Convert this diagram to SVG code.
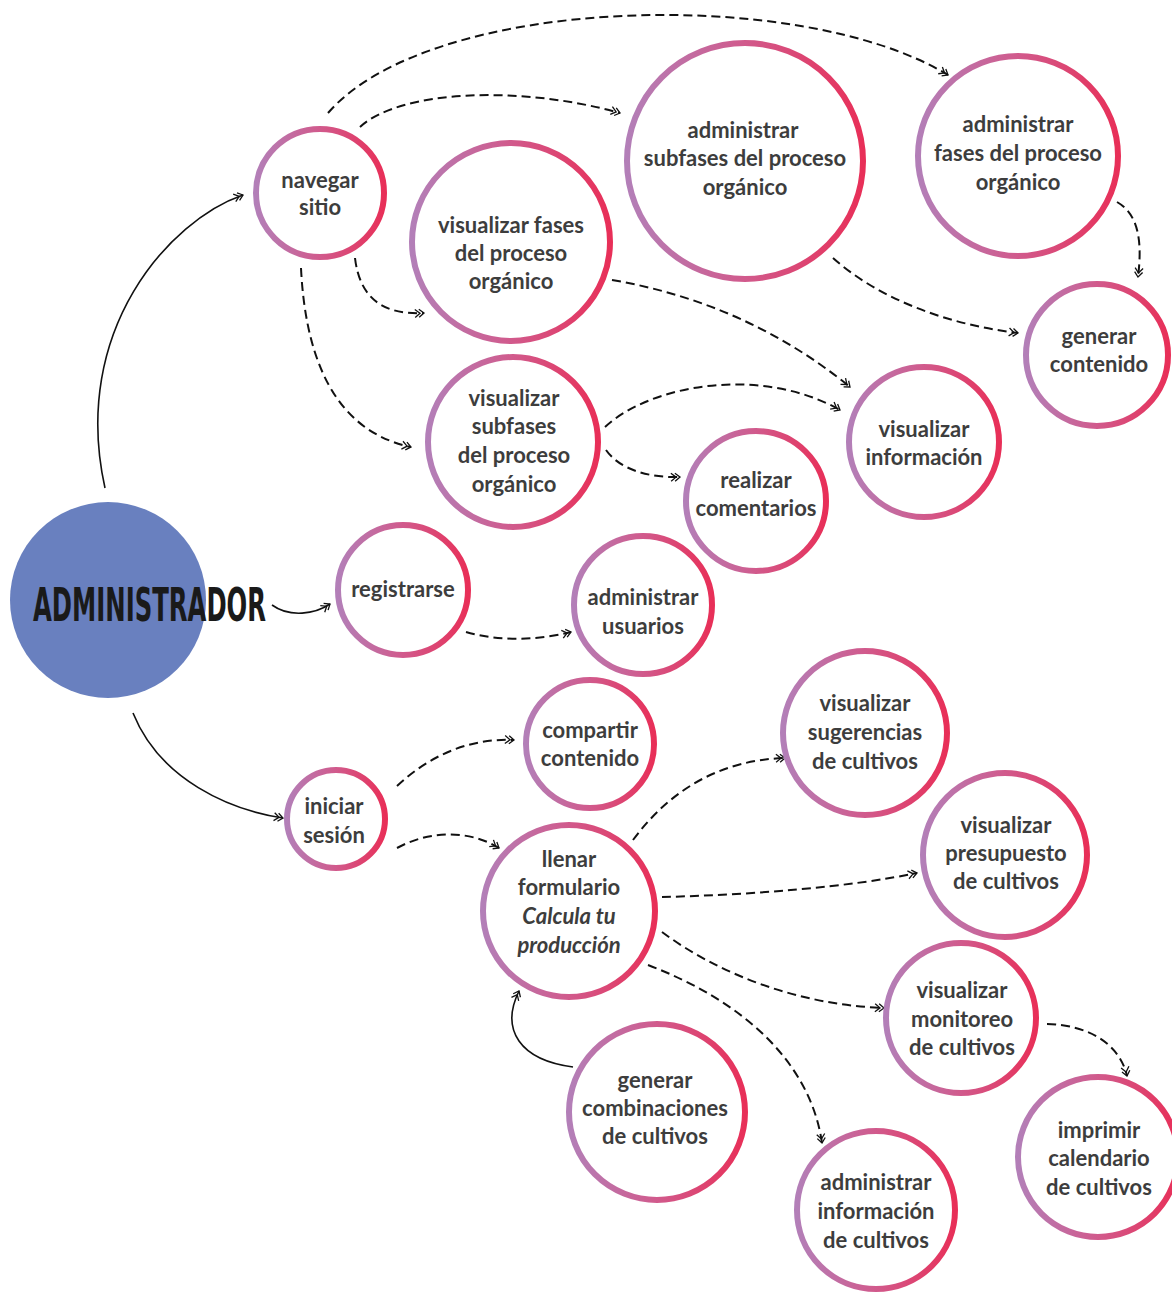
<svg xmlns="http://www.w3.org/2000/svg" width="1172" height="1293" viewBox="0 0 1172 1293">
<defs>
<linearGradient id="ring" x1="0" y1="0" x2="1" y2="0">
<stop offset="0" stop-color="#b37fb8"/>
<stop offset="0.5" stop-color="#d15a8c"/>
<stop offset="1" stop-color="#e82f58"/>
</linearGradient>
<marker id="arr" markerUnits="userSpaceOnUse" markerWidth="16" markerHeight="16" viewBox="-8 -8 16 16" refX="4" refY="0" orient="auto">
<path d="M-1,-4 L4,0 L-1,4 M-5,-4 L0,0 L-5,4" fill="none" stroke="#111" stroke-width="1.3"/>
</marker>
<style>
.node circle{fill:#fff;stroke:url(#ring);stroke-width:6}
.node text{font-family:Lato,"Open Sans","Liberation Sans",sans-serif;font-weight:700;font-size:22px;fill:#3d3d3d;text-anchor:middle}
.it{font-style:italic}
.dash{fill:none;stroke:#111;stroke-width:2;stroke-dasharray:9 5;marker-end:url(#arr)}
.solid{fill:none;stroke:#111;stroke-width:1.6;marker-end:url(#arr)}
</style>
</defs>
<g id="connectors">
<path class="solid" d="M105,488 C70,330 170,220 243,195"/>
<path class="solid" d="M272,605 C290,618 315,614 330,604"/>
<path class="solid" d="M133,713 C160,780 230,810 283,818"/>
<path class="solid" d="M573,1067 C520,1060 500,1030 519,991"/>
<path class="dash" d="M328,113 C430,-5 800,-15 948,75"/>
<path class="dash" d="M360,127 C400,90 520,85 620,113"/>
<path class="dash" d="M355,258 C360,300 385,315 424,313"/>
<path class="dash" d="M301,268 C305,350 330,430 411,447"/>
<path class="dash" d="M612,280 C700,295 780,330 850,387"/>
<path class="dash" d="M833,258 C880,300 950,325 1018,333"/>
<path class="dash" d="M1117,202 C1140,215 1142,245 1138,277"/>
<path class="dash" d="M605,427 C650,385 760,365 840,410"/>
<path class="dash" d="M606,450 C620,470 650,478 680,477"/>
<path class="dash" d="M466,632 C500,642 540,640 571,632"/>
<path class="dash" d="M397,786 C430,755 470,738 514,740"/>
<path class="dash" d="M397,848 C430,830 470,830 499,848"/>
<path class="dash" d="M633,840 C670,790 720,760 785,758"/>
<path class="dash" d="M662,897 C750,895 850,887 917,873"/>
<path class="dash" d="M662,932 C720,975 800,1005 884,1008"/>
<path class="dash" d="M648,965 C740,1000 810,1060 822,1143"/>
<path class="dash" d="M1047,1024 C1090,1025 1120,1045 1127,1076"/>
</g>
<g id="administrador">
<circle cx="108" cy="600" r="98" fill="#6980bf"/>
<text transform="translate(33,621) scale(1,1.55)" x="0" y="0" textLength="233" lengthAdjust="spacingAndGlyphs" font-family="'Liberation Sans Narrow','DejaVu Sans Condensed','Liberation Sans',sans-serif" font-weight="700" font-size="30.3" fill="#1a1a1a">ADMINISTRADOR</text>
</g>
<g id="navegar-sitio" class="node"><circle cx="320" cy="193" r="64"/><text x="320" y="188">navegar</text><text x="320" y="215">sitio</text></g>
<g id="visualizar-fases" class="node"><circle cx="511" cy="242" r="99"/><text x="511" y="233">visualizar fases</text><text x="511" y="261">del proceso</text><text x="511" y="289">orgánico</text></g>
<g id="administrar-subfases" class="node"><circle cx="745" cy="161" r="118"/><text x="743" y="138">administrar</text><text x="745" y="166">subfases del proceso</text><text x="745" y="195">orgánico</text></g>
<g id="administrar-fases" class="node"><circle cx="1018" cy="156" r="100"/><text x="1018" y="132">administrar</text><text x="1018" y="161">fases del proceso</text><text x="1018" y="190">orgánico</text></g>
<g id="generar-contenido" class="node"><circle cx="1097" cy="355" r="71"/><text x="1099" y="344">generar</text><text x="1099" y="372">contenido</text></g>
<g id="visualizar-subfases" class="node"><circle cx="513" cy="442" r="85"/><text x="514" y="406">visualizar</text><text x="514" y="434">subfases</text><text x="514" y="463">del proceso</text><text x="514" y="492">orgánico</text></g>
<g id="visualizar-informacion" class="node"><circle cx="924" cy="442" r="75"/><text x="924" y="437">visualizar</text><text x="924" y="465">información</text></g>
<g id="realizar-comentarios" class="node"><circle cx="756" cy="501" r="70"/><text x="756" y="488">realizar</text><text x="756" y="516">comentarios</text></g>
<g id="registrarse" class="node"><circle cx="403" cy="590" r="65"/><text x="403" y="597">registrarse</text></g>
<g id="administrar-usuarios" class="node"><circle cx="643" cy="605" r="69"/><text x="643" y="605">administrar</text><text x="643" y="634">usuarios</text></g>
<g id="compartir-contenido" class="node"><circle cx="590" cy="744" r="64"/><text x="590" y="738">compartir</text><text x="590" y="766">contenido</text></g>
<g id="visualizar-sugerencias" class="node"><circle cx="865" cy="733" r="82"/><text x="865" y="711">visualizar</text><text x="865" y="740">sugerencias</text><text x="865" y="769">de cultivos</text></g>
<g id="iniciar-sesion" class="node"><circle cx="336" cy="819" r="49"/><text x="334" y="814">iniciar</text><text x="334" y="843">sesión</text></g>
<g id="llenar-formulario" class="node"><circle cx="569" cy="911" r="86"/><text x="569" y="867">llenar</text><text x="569" y="895">formulario</text><text class="it" x="569" y="924">Calcula tu</text><text class="it" x="569" y="953">producción</text></g>
<g id="visualizar-presupuesto" class="node"><circle cx="1005" cy="855" r="82"/><text x="1006" y="833">visualizar</text><text x="1006" y="861">presupuesto</text><text x="1006" y="889">de cultivos</text></g>
<g id="visualizar-monitoreo" class="node"><circle cx="961" cy="1018" r="75"/><text x="962" y="998">visualizar</text><text x="962" y="1027">monitoreo</text><text x="962" y="1055">de cultivos</text></g>
<g id="generar-combinaciones" class="node"><circle cx="657" cy="1112" r="88"/><text x="655" y="1088">generar</text><text x="655" y="1116">combinaciones</text><text x="655" y="1144">de cultivos</text></g>
<g id="administrar-informacion" class="node"><circle cx="876" cy="1210" r="79"/><text x="876" y="1190">administrar</text><text x="876" y="1219">información</text><text x="876" y="1248">de cultivos</text></g>
<g id="imprimir-calendario" class="node"><circle cx="1098" cy="1157" r="80"/><text x="1099" y="1138">imprimir</text><text x="1099" y="1166">calendario</text><text x="1099" y="1195">de cultivos</text></g>
</svg>
